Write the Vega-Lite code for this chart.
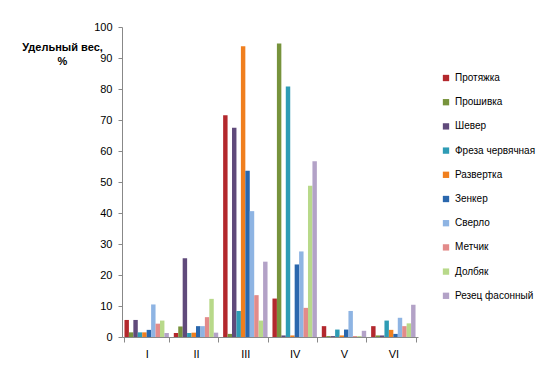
{
  "$schema": "https://vega.github.io/schema/vega-lite/v6.json",
  "width": 296,
  "height": 310,
  "autosize": {"type": "none"},
  "padding": {"left": 122, "top": 27, "right": 127, "bottom": 36},
  "background": "white",
  "config": {
    "font": "Liberation Sans",
    "view": {"stroke": null},
    "axis": {"labelFont": "Liberation Sans", "labelFontSize": 11, "labelColor": "#000", "domainColor": "#888", "tickColor": "#888", "grid": false}
  },
  "data": {
    "values": [
      {"g": "I", "s": "Протяжка", "v": 5.5}, {"g": "I", "s": "Прошивка", "v": 1.5}, {"g": "I", "s": "Шевер", "v": 5.5}, {"g": "I", "s": "Фреза червячная", "v": 1.5}, {"g": "I", "s": "Развертка", "v": 1.5}, {"g": "I", "s": "Зенкер", "v": 2.3}, {"g": "I", "s": "Сверло", "v": 10.5}, {"g": "I", "s": "Метчик", "v": 4.3}, {"g": "I", "s": "Долбяк", "v": 5.3}, {"g": "I", "s": "Резец фасонный", "v": 1.3},
      {"g": "II", "s": "Протяжка", "v": 1.3}, {"g": "II", "s": "Прошивка", "v": 3.4}, {"g": "II", "s": "Шевер", "v": 25.4}, {"g": "II", "s": "Фреза червячная", "v": 1.3}, {"g": "II", "s": "Развертка", "v": 1.4}, {"g": "II", "s": "Зенкер", "v": 3.5}, {"g": "II", "s": "Сверло", "v": 3.5}, {"g": "II", "s": "Метчик", "v": 6.4}, {"g": "II", "s": "Долбяк", "v": 12.3}, {"g": "II", "s": "Резец фасонный", "v": 1.4},
      {"g": "III", "s": "Протяжка", "v": 71.5}, {"g": "III", "s": "Прошивка", "v": 1}, {"g": "III", "s": "Шевер", "v": 67.5}, {"g": "III", "s": "Фреза червячная", "v": 8.4}, {"g": "III", "s": "Развертка", "v": 93.8}, {"g": "III", "s": "Зенкер", "v": 53.6}, {"g": "III", "s": "Сверло", "v": 40.6}, {"g": "III", "s": "Метчик", "v": 13.5}, {"g": "III", "s": "Долбяк", "v": 5.3}, {"g": "III", "s": "Резец фасонный", "v": 24.3},
      {"g": "IV", "s": "Протяжка", "v": 12.4}, {"g": "IV", "s": "Прошивка", "v": 94.7}, {"g": "IV", "s": "Шевер", "v": 0.5}, {"g": "IV", "s": "Фреза червячная", "v": 80.8}, {"g": "IV", "s": "Развертка", "v": 0.5}, {"g": "IV", "s": "Зенкер", "v": 23.4}, {"g": "IV", "s": "Сверло", "v": 27.6}, {"g": "IV", "s": "Метчик", "v": 9.4}, {"g": "IV", "s": "Долбяк", "v": 48.8}, {"g": "IV", "s": "Резец фасонный", "v": 56.7},
      {"g": "V", "s": "Протяжка", "v": 3.5}, {"g": "V", "s": "Прошивка", "v": 0.3}, {"g": "V", "s": "Шевер", "v": 0.3}, {"g": "V", "s": "Фреза червячная", "v": 2.4}, {"g": "V", "s": "Развертка", "v": 0.5}, {"g": "V", "s": "Зенкер", "v": 2.4}, {"g": "V", "s": "Сверло", "v": 8.4}, {"g": "V", "s": "Метчик", "v": 0.3}, {"g": "V", "s": "Долбяк", "v": 0.3}, {"g": "V", "s": "Резец фасонный", "v": 2.0},
      {"g": "VI", "s": "Протяжка", "v": 3.5}, {"g": "VI", "s": "Прошивка", "v": 0.5}, {"g": "VI", "s": "Шевер", "v": 0.5}, {"g": "VI", "s": "Фреза червячная", "v": 5.3}, {"g": "VI", "s": "Развертка", "v": 2.3}, {"g": "VI", "s": "Зенкер", "v": 1}, {"g": "VI", "s": "Сверло", "v": 6.2}, {"g": "VI", "s": "Метчик", "v": 3.5}, {"g": "VI", "s": "Долбяк", "v": 4.4}, {"g": "VI", "s": "Резец фасонный", "v": 10.4}
    ]
  },
  "mark": {"type": "bar", "strokeWidth": 0.5},
  "encoding": {
    "x": {
      "field": "g", "type": "nominal", "sort": null,
      "scale": {"paddingInner": 0.1, "paddingOuter": 0.05},
      "axis": {"title": null, "labelAngle": 0, "tickBand": "extent", "offset": 0, "labelPadding": 6, "tickSize": 5, "domainColor": "#888"}
    },
    "xOffset": {"field": "s", "type": "nominal", "sort": null},
    "y": {
      "field": "v", "type": "quantitative",
      "scale": {"domain": [0, 100], "nice": false},
      "axis": {
        "values": [0, 10, 20, 30, 40, 50, 60, 70, 80, 90, 100],
        "title": ["Удельный вес,", "%"],
        "titleAngle": 0, "titleAlign": "center", "titleBaseline": "top",
        "titleX": -60, "titleY": 14, "titleFontSize": 11, "titleFontWeight": "bold", "titleLineHeight": 14,
        "titleFont": "Liberation Sans", "titleColor": "#000",
        "tickSize": 4, "labelPadding": 6
      }
    },
    "color": {
      "field": "s", "type": "nominal", "sort": null,
      "scale": {
        "domain": ["Протяжка", "Прошивка", "Шевер", "Фреза червячная", "Развертка", "Зенкер", "Сверло", "Метчик", "Долбяк", "Резец фасонный"],
        "range": ["#B3282D", "#77933C", "#604A7B", "#2E9CB5", "#F07F1E", "#2A67AD", "#8EB4E3", "#E38B8A", "#B8D98A", "#B3A2C7"]
      },
      "legend": {
        "title": null, "orient": "none", "legendX": 319, "legendY": 46,
        "symbolType": "square", "symbolSize": 40, "symbolStrokeWidth": 0,
        "labelFontSize": 10, "labelFont": "Liberation Sans", "labelColor": "#000",
        "rowPadding": 14.2, "labelOffset": 4
      }
    }
  }
}
